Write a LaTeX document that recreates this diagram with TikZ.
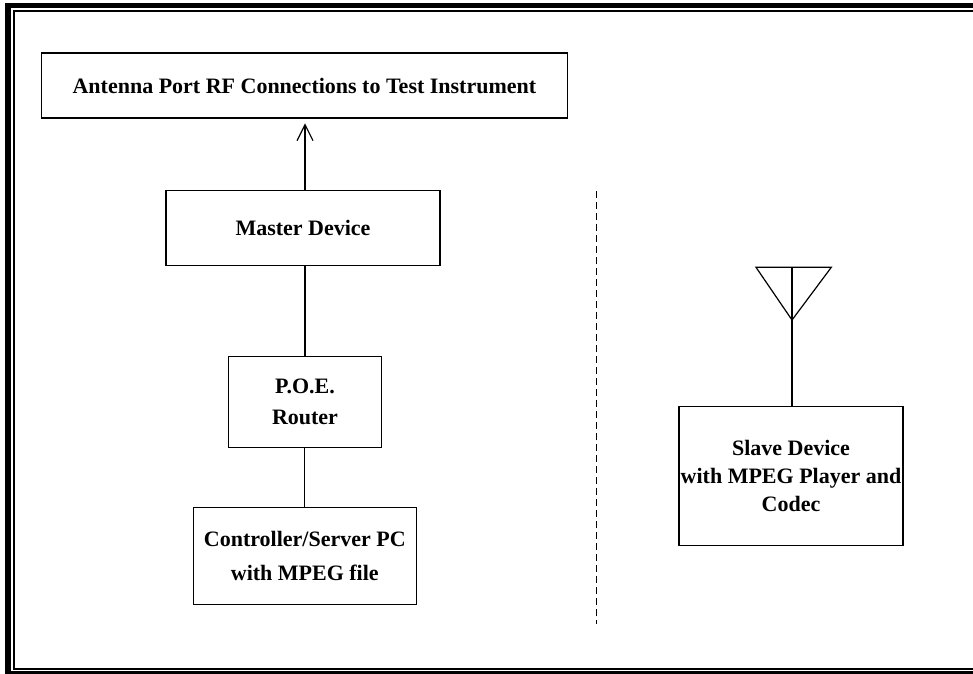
\documentclass[tikz,border=0pt]{standalone}
\usepackage{fontspec}
\setmainfont{Liberation Serif}
\usetikzlibrary{arrows.meta}
\begin{document}
\begin{tikzpicture}[x=1pt, y=-1pt,
        box/.style={draw, line width=1.2pt, inner sep=0pt, align=center, font=\bfseries\fontsize{22}{#1}\selectfont},
        box/.default=30,
        link/.style={line width=1.2pt}]
        \useasboundingbox (0,0) rectangle (973,673);
        % double frame
        \draw[line width=5.5pt] (8,5.7) rectangle (990,674);
        \draw[line width=1.7pt] (14,11) rectangle (990,668.7);
        % master side
        \node[box, minimum width=526pt, minimum height=65pt] (rf) at (304.4,85.5) {Antenna Port RF Connections to Test Instrument};
        \node[box, minimum width=274pt, minimum height=75pt] (master) at (303,228.3) {Master Device};
        \node[box=31, minimum width=153pt, minimum height=91pt] (poe) at (305,401.7) {P.O.E.\\Router};
        \node[box=34, minimum width=223pt, minimum height=97pt] (pc) at (304.8,555.7) {Controller/Server PC\\with MPEG file};
        \draw[link, -{Straight Barb[length=16pt, width=16pt]}, shorten >=4.7pt] (poe.north |- master.north) -- (poe.north |- rf.south);
        \draw[link] (poe.north |- master.south) -- (poe.north);
        \draw[link] (pc.north) -- (pc.north |- poe.south);
        % divider
        \coordinate (divtop) at (596.7,191);
        \coordinate (divbot) at (596.7,624);
        \draw[line width=1pt, dash pattern=on 7pt off 4pt] (divtop) -- (divbot);
        % slave side
        \node[box=28, minimum width=224pt, minimum height=139pt] (slave) at (791,476.2) {Slave Device\\with MPEG Player and\\Codec};
        \coordinate (antL) at (756,267.3);
        \coordinate (antR) at (831.3,267.3);
        \coordinate (feed) at (792,267.3);
        \coordinate (apex) at (792,320);
        \draw[link, line join=miter] (antL) -- (antR) -- (apex) -- cycle;
        \draw[link] (feed) -- (feed |- slave.north);
    \end{tikzpicture}
\end{document}
